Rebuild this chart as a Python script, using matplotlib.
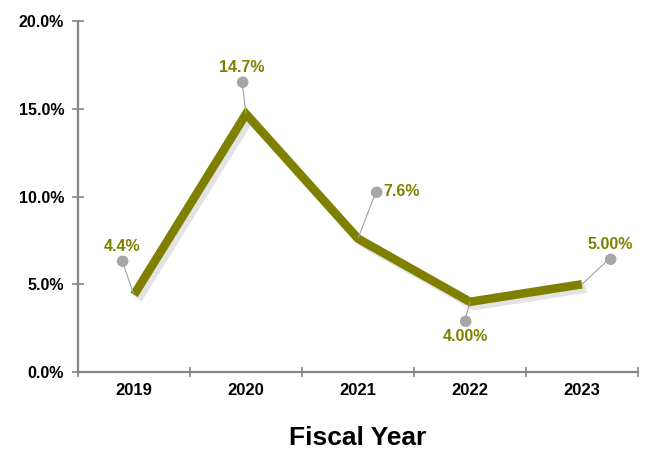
import matplotlib
matplotlib.use("Agg")
import matplotlib.pyplot as plt
import matplotlib.patheffects as pe
import numpy as np

years = ["2019", "2020", "2021", "2022", "2023"]
values = [4.4, 14.7, 7.6, 4.0, 5.0]
labels = ["4.4%", "14.7%", "7.6%", "4.00%", "5.00%"]
yticks = [0, 5, 10, 15, 20]
ytick_labels = ["0.0%", "5.0%", "10.0%", "15.0%", "20.0%"]

# callout layout (pixels): dot offset from point, text offset from dot, alignment
dot_off = [(-12, 34), (-4, 33), (18, 47), (-5, -19), (28, 26)]
txt_off = [(0, 14), (0, 14), (7, 0), (0, -16), (0, 14)]
txt_align = [("center", "center"), ("center", "center"), ("left", "center"),
             ("center", "center"), ("center", "center")]

plt.rcParams['font.family'] = ['Liberation Sans', 'DejaVu Sans']
olive = "#808000"
gray = "#868686"

fig = plt.figure(figsize=(6.45, 4.55), dpi=100)
ax = fig.add_axes([0.121, 0.1824, 0.868, 0.7714])
x = np.arange(len(years))
ax.plot(x, values, color=olive, lw=6.2, solid_capstyle="butt", solid_joinstyle="miter",
        path_effects=[pe.SimpleLineShadow(offset=(3, -3), shadow_color="gray", alpha=0.22, rho=1),
                      pe.Normal()], zorder=3)

ax.set_xlim(-0.5, len(years) - 0.5)
ax.set_ylim(0, 20)
ax.set_yticks(yticks)
ax.set_yticklabels(ytick_labels, fontsize=11.5, fontweight="bold")
ax.set_xticks(x)
ax.set_xticklabels(years, fontsize=12, fontweight="bold")
ax.set_xticks(np.arange(-0.5, len(years)), minor=True)
ax.tick_params(axis="x", which="major", length=0, pad=8)
ax.tick_params(axis="x", which="minor", length=7, direction="inout", color=gray, width=1.2)
ax.tick_params(axis="y", length=8, direction="inout", color=gray, width=1.2, pad=6)
for s in ["top", "right"]:
    ax.spines[s].set_visible(False)
for s in ["left", "bottom"]:
    ax.spines[s].set_color(gray)
    ax.spines[s].set_linewidth(1.6)

for i, (xi, v) in enumerate(zip(x, values)):
    dx, dy = dot_off[i]
    ax.annotate("", xy=(xi, v), xytext=(dx, dy), textcoords="offset pixels",
                arrowprops=dict(arrowstyle="-", color="#A0A0A0", lw=0.8, shrinkA=0, shrinkB=0),
                zorder=4)
    ax.annotate("\u25CF", xy=(xi, v), xytext=(dx, dy), textcoords="offset pixels",
                ha="center", va="center", fontsize=11, color="#A6A6A6", zorder=5,
                family="DejaVu Sans")
    tx, ty = txt_off[i]
    ax.annotate(labels[i], xy=(xi, v), xytext=(dx + tx, dy + ty), textcoords="offset pixels",
                ha=txt_align[i][0], va=txt_align[i][1], fontsize=11.5, fontweight="bold",
                color=olive, zorder=6)

ax.set_xlabel("Fiscal Year", fontsize=19, fontweight="bold", labelpad=20)
fig.savefig("out.png", dpi=100)
